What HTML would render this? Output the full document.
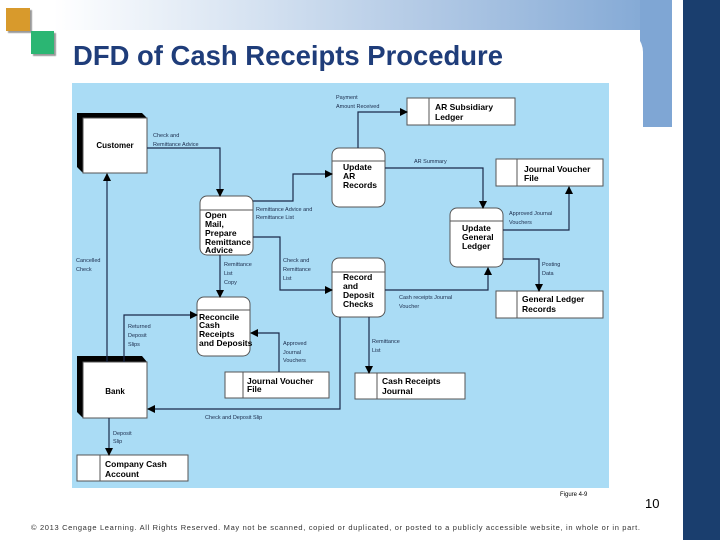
<!DOCTYPE html>
<html><head><style>
body{margin:0;width:720px;height:540px;overflow:hidden;background:#fff;font-family:"Liberation Sans",sans-serif;position:relative}
.a{position:absolute}
</style></head><body>
<div class="a" style="left:0;top:0;width:672px;height:30px;background:linear-gradient(90deg,#fff 8%,#7fa6d4 100%)"></div>
<div class="a" style="left:640px;top:0;width:32px;height:127px;background:#7fa6d4"></div>
<div class="a" style="left:40px;top:30px;width:603px;height:100px;background:#fff;border-top-right-radius:22px"></div>
<div class="a" style="left:683px;top:0;width:37px;height:540px;background:#1a3e6e"></div>
<div class="a" style="left:6px;top:8px;width:24px;height:23px;background:#d89a2c;box-shadow:2px 2px 1px #999"></div>
<div class="a" style="left:31px;top:31px;width:23px;height:23px;background:#2bb673;box-shadow:2px 2px 1px #999"></div>
<div class="a" style="left:73px;top:40px;font-size:28px;font-weight:bold;color:#1f3d7a;transform:scaleX(0.98);transform-origin:left">DFD of Cash Receipts Procedure</div>
<svg class="a" style="left:0;top:0" width="720" height="540" font-family="Liberation Sans, sans-serif">
<defs><marker id="m" markerWidth="8" markerHeight="8" refX="7" refY="4" orient="auto" markerUnits="userSpaceOnUse"><path d="M0,0L8,4L0,8z" fill="#000"/></marker></defs>
<rect x="72" y="83" width="537" height="405" fill="#aadcf5"/>
<g fill="#000"><path d="M77,113H142L147,118H83V173L77,167Z"/><path d="M77,356H142L147,362H83V418L77,412Z"/></g>
<g fill="#fff" stroke="#555" stroke-width="1"><rect x="83" y="118" width="64" height="55"/><rect x="83" y="362" width="64" height="56"/></g>
<g font-size="8" font-weight="bold" text-anchor="middle"><text x="115" y="148">Customer</text><text x="115" y="394">Bank</text></g>
<g fill="#fff" stroke="#555">
<rect x="200" y="196" width="53" height="59" rx="7"/><line x1="200" y1="210" x2="253" y2="210"/>
<rect x="332" y="148" width="53" height="59" rx="7"/><line x1="332" y1="161" x2="385" y2="161"/>
<rect x="450" y="208" width="53" height="59" rx="7"/><line x1="450" y1="221" x2="503" y2="221"/>
<rect x="332" y="258" width="53" height="59" rx="7"/><line x1="332" y1="272" x2="385" y2="272"/>
<rect x="197" y="297" width="53" height="59" rx="7"/><line x1="197" y1="310" x2="250" y2="310"/>
<rect x="407" y="98" width="108" height="27"/><line x1="429" y1="98" x2="429" y2="125"/>
<rect x="496" y="159" width="107" height="27"/><line x1="517" y1="159" x2="517" y2="186"/>
<rect x="496" y="291" width="107" height="27"/><line x1="517" y1="291" x2="517" y2="318"/>
<rect x="225" y="372" width="104" height="26"/><line x1="243" y1="372" x2="243" y2="398"/>
<rect x="355" y="373" width="110" height="26"/><line x1="377" y1="373" x2="377" y2="399"/>
<rect x="77" y="455" width="111" height="26"/><line x1="100" y1="455" x2="100" y2="481"/>
</g>
<g font-size="8.5" font-weight="bold">
<text x="205" y="218">Open</text><text x="205" y="227">Mail,</text><text x="205" y="236">Prepare</text><text x="205" y="245">Remittance</text><text x="205" y="253">Advice</text>
<text x="343" y="170">Update</text><text x="343" y="179">AR</text><text x="343" y="188">Records</text>
<text x="462" y="231">Update</text><text x="462" y="240">General</text><text x="462" y="249">Ledger</text>
<text x="343" y="280">Record</text><text x="343" y="289">and</text><text x="343" y="298">Deposit</text><text x="343" y="307">Checks</text>
<text x="199" y="320">Reconcile</text><text x="199" y="328">Cash</text><text x="199" y="337">Receipts</text><text x="199" y="346">and Deposits</text>
<text x="435" y="110">AR Subsidiary</text><text x="435" y="120">Ledger</text>
<text x="524" y="172">Journal Voucher</text><text x="524" y="181">File</text>
<text x="522" y="302">General Ledger</text><text x="522" y="312">Records</text>
<text x="247" y="384">Journal Voucher</text><text x="247" y="392">File</text>
<text x="382" y="384">Cash Receipts</text><text x="382" y="394">Journal</text>
<text x="105" y="467">Company Cash</text><text x="105" y="477">Account</text>
</g>
<g fill="none" stroke="#1a2a4a" stroke-width="1.2" marker-end="url(#m)">
<path d="M147,148H220V196"/>
<path d="M253,201H293V174H332"/>
<path d="M253,237H280V290H332"/>
<path d="M220,255V297"/>
<path d="M107,362V174"/>
<path d="M124,362V315H197"/>
<path d="M279,372V333H251"/>
<path d="M340,317V409H148"/>
<path d="M369,317V373"/>
<path d="M385,290H488V268"/>
<path d="M358,148V112H407"/>
<path d="M385,168H483V208"/>
<path d="M503,230H569V187"/>
<path d="M503,259H539V291"/>
<path d="M109,418V455"/>
</g>
<g font-size="5.5" fill="#1a2a4a">
<text x="153" y="137">Check and</text><text x="153" y="146">Remittance Advice</text>
<text x="336" y="99">Payment</text><text x="336" y="108">Amount Received</text>
<text x="414" y="163">AR Summary</text>
<text x="256" y="211">Remittance Advice and</text><text x="256" y="219">Remittance List</text>
<text x="224" y="266">Remittance</text><text x="224" y="275">List</text><text x="224" y="284">Copy</text>
<text x="283" y="262">Check and</text><text x="283" y="271">Remittance</text><text x="283" y="280">List</text>
<text x="76" y="262">Cancelled</text><text x="76" y="271">Check</text>
<text x="509" y="215">Approved Journal</text><text x="509" y="224">Vouchers</text>
<text x="542" y="266">Posting</text><text x="542" y="275">Data</text>
<text x="399" y="299">Cash receipts Journal</text><text x="399" y="308">Voucher</text>
<text x="128" y="328">Returned</text><text x="128" y="337">Deposit</text><text x="128" y="346">Slips</text>
<text x="283" y="345">Approved</text><text x="283" y="354">Journal</text><text x="283" y="362">Vouchers</text>
<text x="372" y="343">Remittance</text><text x="372" y="352">List</text>
<text x="205" y="419">Check and Deposit Slip</text>
<text x="113" y="435">Deposit</text><text x="113" y="443">Slip</text>
</g>
<text x="560" y="496" font-size="6">Figure 4-9</text>
<text x="645" y="508" font-size="13">10</text>
<text x="31" y="530" font-size="7.5" fill="#333" textLength="609" lengthAdjust="spacing">© 2013 Cengage Learning. All Rights Reserved. May not be scanned, copied or duplicated, or posted to a publicly accessible website, in whole or in part.</text>
</svg>
</body></html>
